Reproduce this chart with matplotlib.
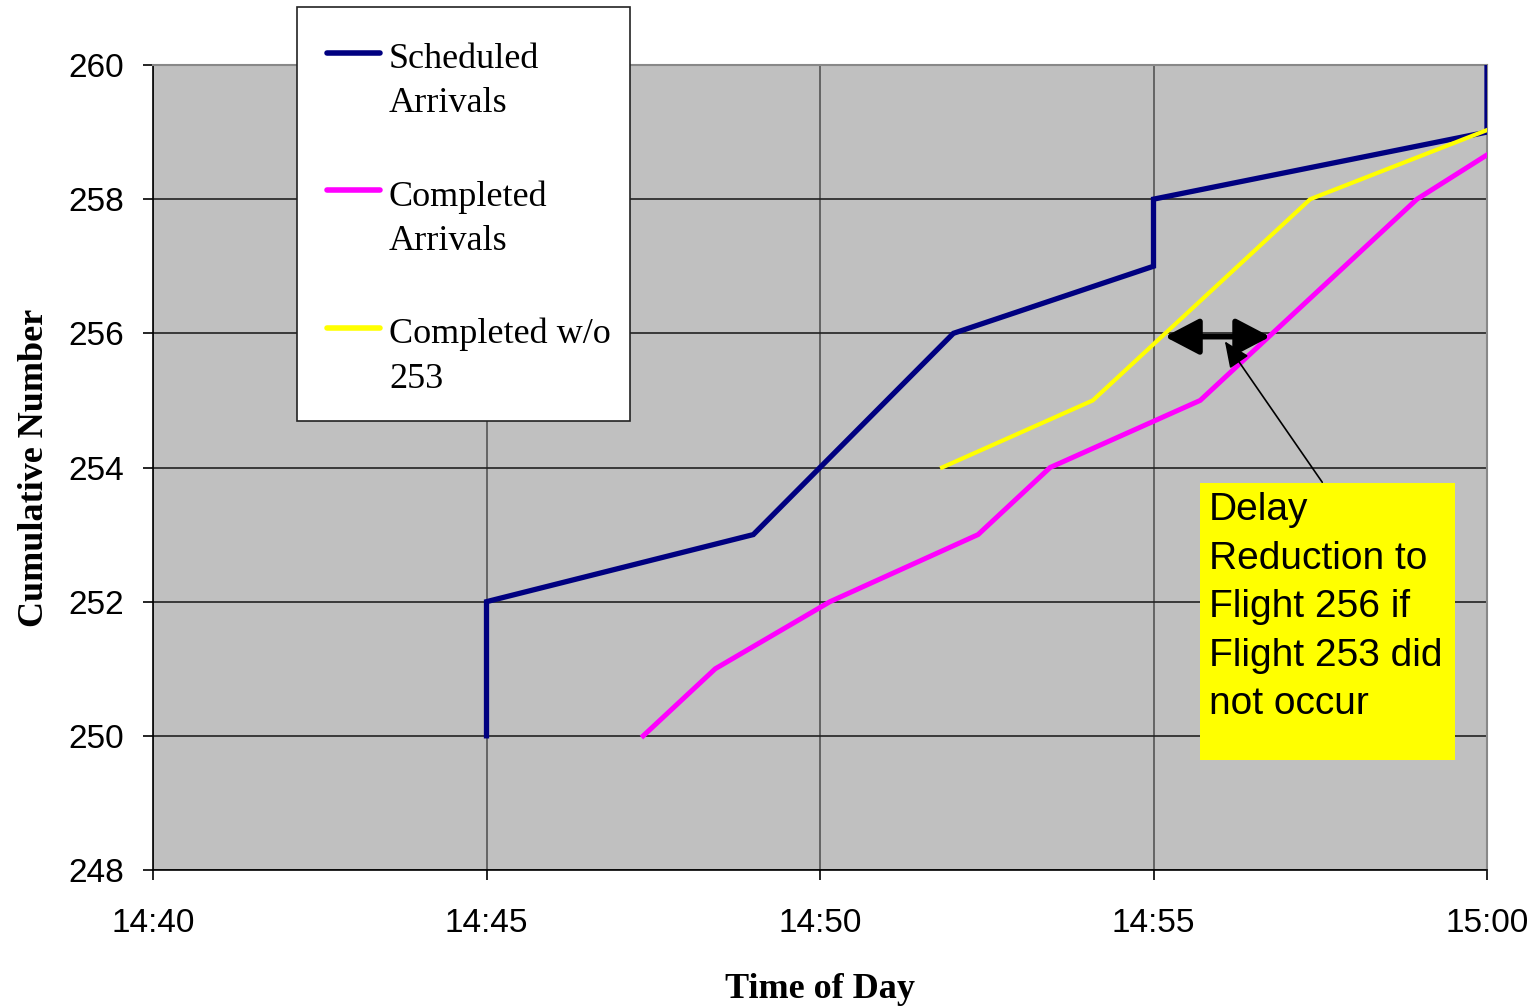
import matplotlib
matplotlib.use("Agg")
import matplotlib.pyplot as plt
from matplotlib.lines import Line2D
from matplotlib.patches import Rectangle
from matplotlib.ticker import FuncFormatter

# minutes after 14:00
sched_t = [45, 45, 49, 52, 55, 55, 60, 60]
sched_n = [250, 252, 253, 256, 257, 258, 259, 260]

compl_t = [47.35, 48.43, 50.15, 52.37, 53.45, 55.7, 58.95, 60]
compl_n = [250, 251, 252, 253, 254, 255, 258, 258.66]

wo253_t = [51.83, 54.09, 57.35, 60]
wo253_n = [254, 255, 258, 259.03]

x_ticks = [40, 45, 50, 55, 60]
y_ticks = [248, 250, 252, 254, 256, 258, 260]

delay_from = 55.17
delay_to = 56.75
delay_level = 255.95

note_text = "Delay\nReduction to\nFlight 256 if\nFlight 253 did\nnot occur"


def fmt_time(v, pos):
    h = 14 + int(v) // 60
    m = int(v) % 60
    return "%d:%02d" % (h, m)


fig = plt.figure(figsize=(15.38, 10.06), dpi=100)
ax = fig.add_axes([153 / 1538, 136 / 1006, 1334 / 1538, 805 / 1006])
ax.set_facecolor("#C0C0C0")

ax.plot(sched_t, sched_n, color="#000080", lw=3.8, solid_joinstyle="miter", zorder=3)
ax.plot(compl_t, compl_n, color="#FF00FF", lw=3.6, zorder=3)
ax.plot(wo253_t, wo253_n, color="#FFFF00", lw=3.0, zorder=3)

ax.set_xlim(40, 60)
ax.set_ylim(248, 260)
ax.set_xticks(x_ticks)
ax.set_yticks(y_ticks)
ax.xaxis.set_major_formatter(FuncFormatter(fmt_time))
ax.grid(axis="y", color="#222222", lw=1.2)
ax.grid(axis="x", color="#555555", lw=1.2)
ax.set_axisbelow(True)
ax.tick_params(labelsize=24, length=7, width=1.2)
ax.tick_params(axis="y", pad=14)
ax.tick_params(axis="x", pad=20)
for lbl in ax.get_xticklabels() + ax.get_yticklabels():
    lbl.set_family("Liberation Sans")
for s in ["top", "right"]:
    ax.spines[s].set_color("#888888")
    ax.spines[s].set_linewidth(1.5)
for s in ["left", "bottom"]:
    ax.spines[s].set_color("black")
    ax.spines[s].set_linewidth(1.2)

ax.set_xlabel("Time of Day", family="Liberation Serif", fontweight="bold", fontsize=26, labelpad=25)
ax.set_ylabel("Cumulative Number", family="Liberation Serif", fontweight="bold", fontsize=26, labelpad=12)

# double-headed delay arrow
ax.annotate("", xy=(delay_to, delay_level), xytext=(delay_from, delay_level),
            arrowprops=dict(arrowstyle="<|-|>,head_length=1.05,head_width=0.55",
                            color="black", lw=4, shrinkA=0, shrinkB=0,
                            mutation_scale=20), zorder=5)
# pointer from note
ax.annotate("", xy=(56.07, 255.88), xytext=(57.53, 253.78),
            arrowprops=dict(arrowstyle="-|>,head_length=0.8,head_width=0.35",
                            color="black", lw=1.2, shrinkA=0, shrinkB=0,
                            mutation_scale=20), zorder=5)

# note box
fig.patches.append(Rectangle((1200 / 1538, 1 - 760 / 1006), 255 / 1538, 277 / 1006,
                             transform=fig.transFigure, facecolor="#FFFF00",
                             edgecolor="none", zorder=6))
fig.text(1209 / 1538, 1 - 492 / 1006, note_text, fontsize=28, family="Liberation Sans",
         va="top", ha="left", linespacing=1.45, zorder=7)

# legend box
fig.patches.append(Rectangle((297 / 1538, 1 - 421 / 1006), 333 / 1538, 414 / 1006,
                             transform=fig.transFigure, facecolor="white",
                             edgecolor="#222222", lw=1.2, zorder=6))
leg_items = [("Scheduled\nArrivals", "#000080", 53),
             ("Completed\nArrivals", "#FF00FF", 190),
             ("Completed w/o\n253", "#FFFF00", 328)]
for label, col, ypix in leg_items:
    yf = 1 - ypix / 1006
    fig.add_artist(Line2D([327 / 1538, 380 / 1538], [yf, yf], color=col, lw=4,
                          solid_capstyle="round", transform=fig.transFigure, zorder=7))
    fig.text(389 / 1538, yf + 10 / 1006, label, fontsize=26, family="Liberation Serif",
             va="top", ha="left", linespacing=1.45, zorder=7)

fig.savefig("out.png", dpi=100, facecolor="white")
